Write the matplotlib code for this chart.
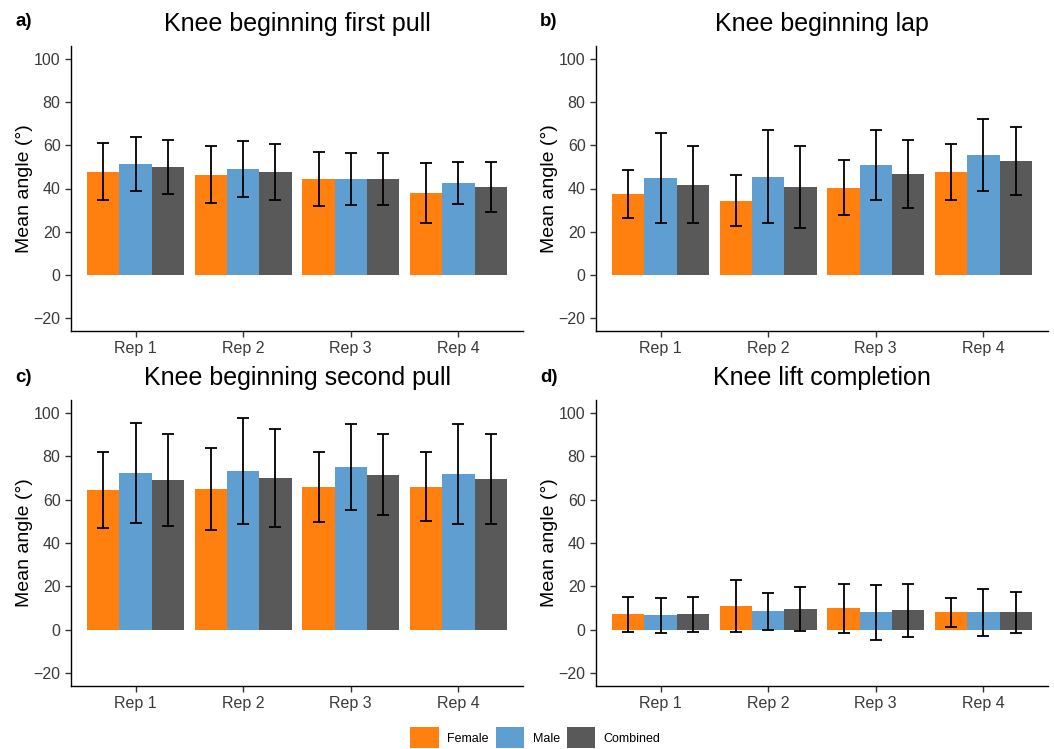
import matplotlib
matplotlib.use("Agg")
import matplotlib.pyplot as plt
import numpy as np
from matplotlib.patches import Patch

plt.rcParams["font.family"] = ["Liberation Sans", "DejaVu Sans"]

reps = ["Rep 1", "Rep 2", "Rep 3", "Rep 4"]
groups = ["Female", "Male", "Combined"]
colors = ["#FF800E", "#5F9ED1", "#595959"]

titles = ["Knee beginning first pull", "Knee beginning lap",
          "Knee beginning second pull", "Knee lift completion"]
panel_tags = ["a)", "b)", "c)", "d)"]

# mean angle per group (Female, Male, Combined) x rep
first_pull_mean = [[47.7, 46.3, 44.4, 38.0],
                   [51.4, 49.1, 44.4, 42.6],
                   [50.0, 47.7, 44.4, 40.7]]
first_pull_sd = [[13.2, 13.2, 12.6, 14.0],
                 [12.4, 12.9, 12.2, 9.9],
                 [12.6, 12.9, 12.2, 11.8]]

lap_mean = [[37.5, 34.3, 40.3, 47.7],
            [44.9, 45.4, 50.9, 55.6],
            [41.7, 40.7, 46.8, 52.8]]
lap_sd = [[11.1, 11.8, 12.7, 12.8],
          [21.0, 21.6, 16.0, 16.6],
          [17.9, 19.0, 15.6, 15.7]]

second_pull_mean = [[64.5, 65.0, 65.9, 65.9],
                    [72.4, 73.3, 75.1, 71.9],
                    [69.1, 70.0, 71.4, 69.6]]
second_pull_sd = [[17.6, 18.9, 16.0, 15.9],
                  [23.2, 24.4, 19.7, 23.1],
                  [21.4, 22.5, 18.7, 20.9]]

lift_mean = [[7.1, 10.8, 9.8, 8.0],
             [6.6, 8.5, 8.0, 8.0],
             [7.1, 9.4, 8.9, 8.0]]
lift_sd = [[8.0, 12.1, 11.5, 6.7],
           [8.2, 8.6, 12.6, 11.0],
           [8.0, 10.2, 12.2, 9.5]]

panels = [(first_pull_mean, first_pull_sd), (lap_mean, lap_sd),
          (second_pull_mean, second_pull_sd), (lift_mean, lift_sd)]

W, H = 1054, 749
fig = plt.figure(figsize=(W / 100, H / 100), dpi=100)

# axes boxes in pixels: left, top, width, height
boxes = [(71, 46, 452, 285), (596, 46, 452, 285),
         (71, 400, 452, 286), (596, 400, 452, 286)]
tag_pos = [(15, 21), (540, 21), (15, 377), (540, 377)]

bar_w = 0.3
x = np.arange(1, len(reps) + 1)

for i, (mean, sd) in enumerate(panels):
    l, t, w, h = boxes[i]
    ax = fig.add_axes([l / W, 1 - (t + h) / H, w / W, h / H])
    for g in range(len(groups)):
        xs = x + (g - 1) * bar_w
        ax.bar(xs, mean[g], width=bar_w, color=colors[g], linewidth=0)
        ax.errorbar(xs, mean[g], yerr=sd[g], fmt="none", ecolor="black",
                    elinewidth=1.3, capsize=4, capthick=1.3)
    ax.set_xlim(0.4, 4.6)
    ax.set_ylim(-26, 106)
    ax.set_yticks([-20, 0, 20, 40, 60, 80, 100])
    ax.set_xticks(x)
    ax.set_xticklabels(reps)
    ax.tick_params(labelsize=11.5, labelcolor="#3A3A3A", color="#333333",
                   length=4, width=1)
    ax.spines["top"].set_visible(False)
    ax.spines["right"].set_visible(False)
    ax.spines["left"].set_linewidth(1.0)
    ax.spines["bottom"].set_linewidth(1.0)
    ax.set_ylabel("Mean angle (°)", fontsize=14)
    ax.yaxis.set_label_coords(-0.085, 0.5)
    ax.set_title(titles[i], fontsize=18, pad=11)
    fig.text(tag_pos[i][0] / W, 1 - tag_pos[i][1] / H, panel_tags[i],
             fontsize=13.5, fontweight="bold", va="center")

handles = [Patch(facecolor=c, edgecolor="none") for c in colors]
fig.legend(handles, groups, loc="lower center", ncol=3, frameon=False,
           fontsize=9, bbox_to_anchor=(0.508, -0.014), handlelength=2.3,
           handleheight=2.2, handletextpad=0.65, columnspacing=0.55)

fig.savefig("out.png", dpi=100)
